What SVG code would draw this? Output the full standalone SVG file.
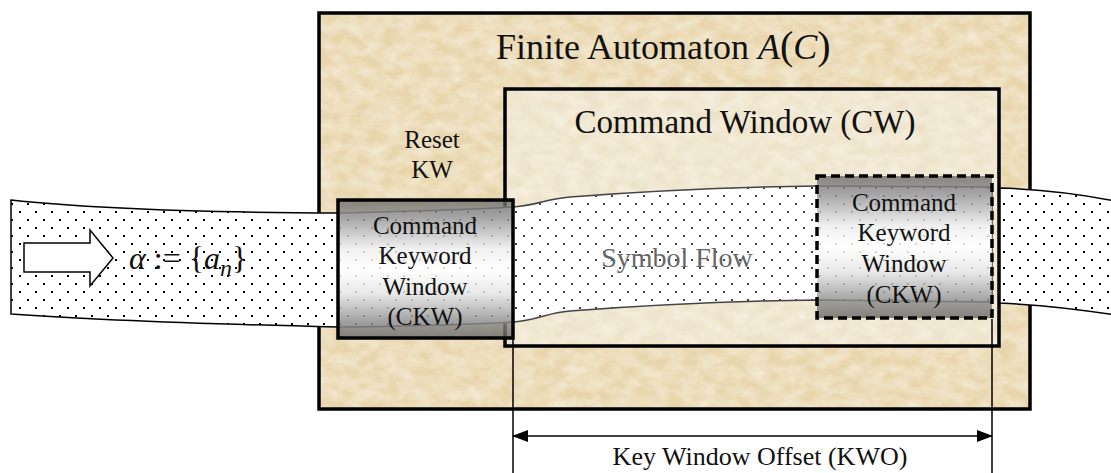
<svg xmlns="http://www.w3.org/2000/svg" width="1111" height="473" viewBox="0 0 1111 473">
<style>
.t{font-family:"Liberation Serif","Times New Roman",serif;fill:#111}
.box{fill:none;stroke:#000;stroke-width:3.5}
.ext{stroke:#000;stroke-width:1.5;fill:none}
</style>
<defs>
<filter id="paper" x="0" y="0" width="100%" height="100%">
<feTurbulence type="fractalNoise" baseFrequency="0.06 0.09" numOctaves="4" seed="7" result="n"/>
<feColorMatrix in="n" type="matrix" values="0 0 0 0 0.98 0 0 0 0 0.95 0 0 0 0 0.86 0.9 0 0 0 -0.25" result="c"/>
<feComposite in="c" in2="SourceGraphic" operator="in" result="cc"/>
<feMerge><feMergeNode in="SourceGraphic"/><feMergeNode in="cc"/></feMerge>
</filter>
<pattern id="dots" width="16" height="16" patternUnits="userSpaceOnUse">
<rect width="16" height="16" fill="#fff"/>
<rect x="3" y="3" width="2" height="2" fill="#000"/>
<rect x="11" y="11" width="2" height="2" fill="#000"/>
</pattern>
<pattern id="dotsG" width="16" height="16" patternUnits="userSpaceOnUse">
<rect width="16" height="16" fill="#fff"/>
<rect x="3" y="3" width="2" height="2" fill="#444"/>
<rect x="11" y="11" width="2" height="2" fill="#444"/>
</pattern>
<linearGradient id="metal" x1="0" y1="0" x2="0" y2="1">
<stop offset="0" stop-color="#6c6c6c"/>
<stop offset="0.12" stop-color="#8c8c8c"/>
<stop offset="0.35" stop-color="#ececec"/>
<stop offset="0.5" stop-color="#ffffff"/>
<stop offset="0.68" stop-color="#e2e2e2"/>
<stop offset="0.88" stop-color="#8a8a8a"/>
<stop offset="1" stop-color="#686868"/>
</linearGradient>
<marker id="ah" viewBox="0 0 16 12" refX="15" refY="6" markerWidth="16" markerHeight="12" markerUnits="userSpaceOnUse" orient="auto-start-reverse">
<path d="M0,0 L16,6 L0,12 Z" fill="#000"/>
</marker>
</defs>

<g id="automaton">
<rect x="319" y="13" width="711" height="396" fill="#e8d5ab" filter="url(#paper)"/>
<rect class="box" x="319" y="13" width="711" height="396"/>
<text class="t" x="496" y="59" font-size="36">Finite Automaton <tspan font-style="italic">A</tspan><tspan font-size="40">(</tspan><tspan font-style="italic">C</tspan><tspan font-size="40">)</tspan></text>
</g>

<g id="reset-kw">
<text class="t" x="432" y="148" font-size="25" text-anchor="middle">Reset</text>
<text class="t" x="432" y="178" font-size="25" text-anchor="middle">KW</text>
</g>

<g id="command-window">
<rect x="505" y="89" width="494" height="257" fill="#eee3ca" filter="url(#paper)"/>
<rect class="box" x="505" y="89" width="494" height="257" stroke-width="3"/>
<text class="t" x="745" y="133" font-size="33" text-anchor="middle">Command Window (CW)</text>
</g>

<g id="symbol-flow">
<path d="M338,213 C420,211 480,209 513,207 C540,205 545,199 570,197 C650,191 740,187 817,186 L992,187 L992,302 L817,300 C740,301 650,305 570,311 C545,313 540,320 513,322 C480,324 420,326 338,327 Z" fill="url(#dotsG)" stroke="#444" stroke-width="1.5"/>
<text x="677" y="267" font-size="28" text-anchor="middle" font-family="Liberation Serif, serif" fill="#666">Symbol Flow</text>
</g>

<g id="input-stream">
<path d="M11,200 Q120,212 338,213 L338,327 Q120,322 11,314 Z" fill="url(#dots)" stroke="#000" stroke-width="1.5"/>
<polygon points="24,243 90,243 90,230 113,258 90,286 90,272 24,272" fill="#fff" stroke="#000" stroke-width="1.5"/>
<text class="t" x="129" y="269" font-size="32"><tspan font-style="italic">α</tspan> := {<tspan font-style="italic">a</tspan><tspan font-style="italic" font-size="24" dy="7">n</tspan><tspan dy="-7">}</tspan></text>
</g>

<g id="output-stream">
<path d="M1000,188 Q1060,190 1115,201 L1115,315 Q1060,306 1000,303 Z" fill="url(#dots)" stroke="#000" stroke-width="1.5"/>
</g>

<g id="ckw-left">
<rect x="338" y="200" width="175" height="138" fill="url(#metal)" fill-opacity="0.8" stroke="#000" stroke-width="3.5"/>
<text class="t" x="425" y="234" font-size="25" text-anchor="middle">Command</text>
<text class="t" x="425" y="264" font-size="25" text-anchor="middle">Keyword</text>
<text class="t" x="425" y="295" font-size="25" text-anchor="middle">Window</text>
<text class="t" x="425" y="325" font-size="25" text-anchor="middle">(CKW)</text>
</g>

<g id="ckw-right">
<rect x="817" y="176" width="175" height="142" fill="url(#metal)" fill-opacity="0.8" stroke="#000" stroke-width="3.5" stroke-dasharray="9 5"/>
<text class="t" x="904" y="211" font-size="25" text-anchor="middle">Command</text>
<text class="t" x="904" y="241" font-size="25" text-anchor="middle">Keyword</text>
<text class="t" x="904" y="272" font-size="25" text-anchor="middle">Window</text>
<text class="t" x="904" y="303" font-size="25" text-anchor="middle">(CKW)</text>
</g>

<g id="connectors">
<line class="ext" x1="513" y1="339" x2="513" y2="473"/>
<line class="ext" x1="992" y1="319" x2="992" y2="473"/>
<line class="ext" x1="513" y1="436" x2="992" y2="436" marker-start="url(#ah)" marker-end="url(#ah)"/>
</g>

<g id="kwo-label">
<text class="t" x="760" y="465" font-size="26" text-anchor="middle">Key Window Offset (KWO)</text>
</g>
</svg>
